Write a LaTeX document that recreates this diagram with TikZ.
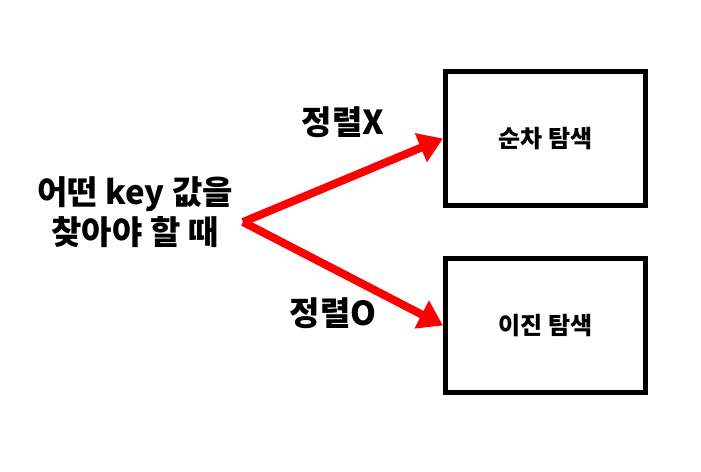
\documentclass[tikz,border=0pt]{standalone}
\usepackage{fontspec}
\setmainfont{Noto Sans CJK KR}
\usepackage{tikz}
\usetikzlibrary{arrows.meta,positioning}

\begin{document}
\begin{tikzpicture}[x=1pt,y=-1pt,
    searchbox/.style={draw,line width=5pt,minimum width=200pt,minimum height=134pt,
      font=\fontsize{24}{28}\selectfont\bfseries},
    branch/.style={red,line width=8pt,-{Triangle[length=24pt,width=30pt]}},
    sortlabel/.style={font=\fontsize{33}{38}\selectfont\bfseries}]
  \useasboundingbox (0,0) rectangle (701,471);
  % question on the left, fork point of the two arrows
  \node[align=center,font=\fontsize{33}{40}\selectfont\bfseries] (query) at (135,212)
    {어떤 key 값을\\찾아야 할 때};
  \coordinate (fork) at (243,222);
  % the two searches
  \node[searchbox] (seq) at (545.5,138.5) {순차 탐색};
  \node[searchbox] (bin) at (545.5,325.5) {이진 탐색};
  \draw[branch] (fork) -- (seq.west);
  \draw[branch] (fork) -- (bin.west);
  \node[sortlabel] (unsorted) at (343,122) {정렬X};
  \node[sortlabel] (sorted) at (333,313) {정렬O};
\end{tikzpicture}
\end{document}
